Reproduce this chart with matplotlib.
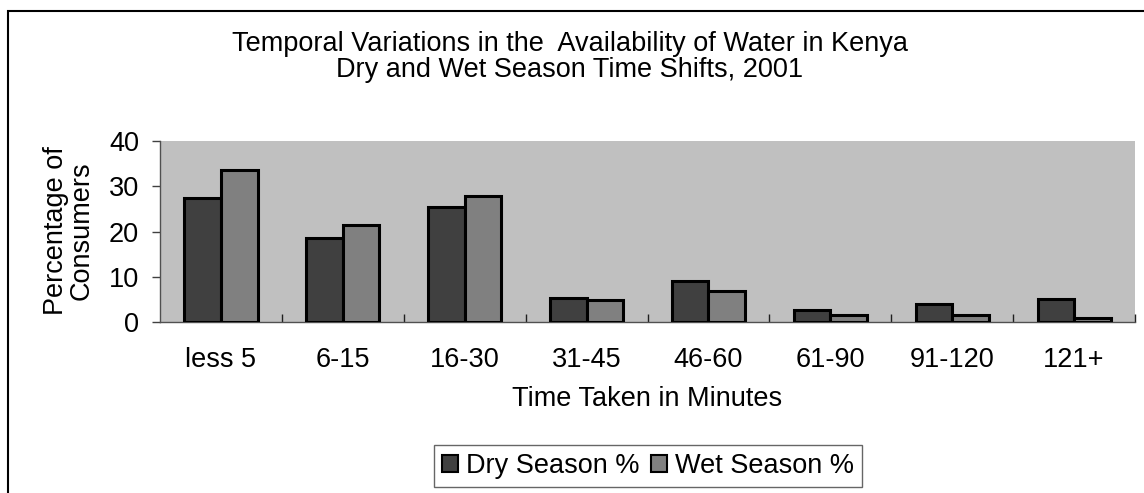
import matplotlib
matplotlib.use("Agg")
import matplotlib.pyplot as plt
import numpy as np
from matplotlib.patches import Rectangle

categories = ["less 5", "6-15", "16-30", "31-45", "46-60", "61-90", "91-120", "121+"]
dry = [27.3, 18.5, 25.5, 5.4, 9.1, 2.6, 3.9, 5.0]
wet = [33.7, 21.4, 27.8, 4.8, 6.8, 1.5, 1.5, 0.9]
yticks = [0, 10, 20, 30, 40]

plt.rcParams['font.family'] = ['Liberation Sans', 'DejaVu Sans']
FS = 19.5

W, H = 1144, 493
fig = plt.figure(figsize=(W / 100, H / 100), dpi=100)
fig.patch.set_facecolor("white")

# outer frame (left and top visible)
fig.patches.append(Rectangle((8 / W, -0.1), 1.2, (H - 11) / H + 0.1,
                             transform=fig.transFigure, fill=False,
                             edgecolor="black", linewidth=1.5))

ax = fig.add_axes([160 / W, (H - 322) / H, (1135 - 160) / W, (322 - 141) / H])
ax.set_facecolor("#c0c0c0")

x = np.arange(len(categories))
bw = 0.3
ax.bar(x - bw / 2, dry, bw, color="#404040", edgecolor="black", linewidth=2.2,
       label="Dry Season %", zorder=3)
ax.bar(x + bw / 2, wet, bw, color="#808080", edgecolor="black", linewidth=2.2,
       label="Wet Season %", zorder=3)

ax.set_xlim(-0.5, len(categories) - 0.5)
ax.set_ylim(0, 40)
ax.set_yticks(yticks)
ax.set_xticks(x)
ax.set_xticklabels(categories, fontsize=FS)
ax.set_xticks(list(x + 0.5), minor=True)
ax.tick_params(axis="x", which="major", length=0, pad=18)
ax.tick_params(axis="x", which="minor", direction="in", length=6, color="#202020", width=1)
ax.tick_params(axis="y", which="major", direction="out", length=6, width=1,
               color="#404040", labelsize=FS, pad=9)

for s in ["top", "right"]:
    ax.spines[s].set_visible(False)
ax.spines["left"].set_color("#505050")
ax.spines["bottom"].set_color("#505050")
ax.spines["left"].set_linewidth(1)
ax.spines["bottom"].set_linewidth(1)

ax.set_xlabel("Time Taken in Minutes", fontsize=FS, labelpad=9)
fig.text(69 / W, 1 - 231 / H, "Percentage of\nConsumers", rotation=90,
         ha="center", va="center", fontsize=FS, linespacing=1.0)

fig.text(570 / W, 1 - 57 / H,
         "Temporal Variations in the  Availability of Water in Kenya\nDry and Wet Season Time Shifts, 2001",
         ha="center", va="center", fontsize=FS, linespacing=1.02)

leg = fig.legend(loc="center", bbox_to_anchor=(648 / W, 1 - 466 / H), ncol=2,
                 fontsize=FS, frameon=True, fancybox=False, handlelength=0.6,
                 handleheight=0.6, handletextpad=0.3, columnspacing=0.4,
                 borderpad=0.3, edgecolor="#404040")
leg.get_frame().set_linewidth(1)
for h in leg.legend_handles:
    h.set_linewidth(1.5)

fig.savefig("out.png", dpi=100)
